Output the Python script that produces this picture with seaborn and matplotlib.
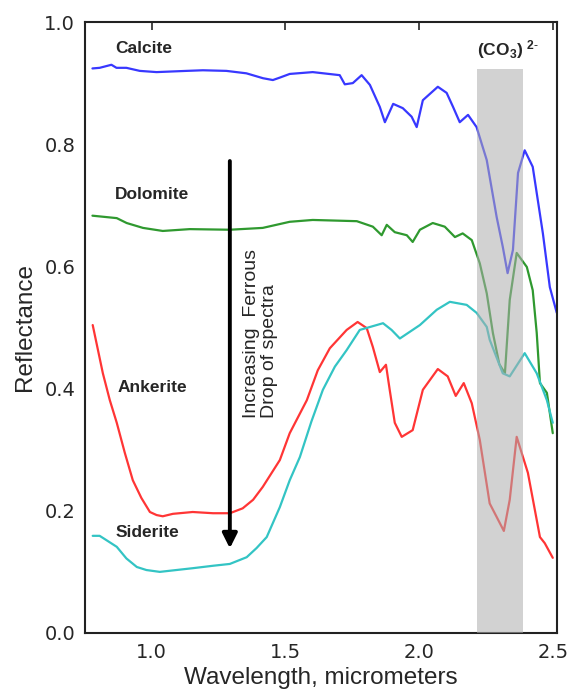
import pandas as pd
import seaborn as sns
import matplotlib.pyplot as plt

# spectra (wavelength in micrometers, reflectance)
calcite_x = [0.778, 0.805, 0.849, 0.868, 0.905, 0.955, 1.018, 1.130, 1.191, 1.279, 1.354, 1.416, 1.453,
             1.479, 1.516, 1.602, 1.703, 1.722, 1.752, 1.785, 1.816, 1.853, 1.872, 1.903, 1.939, 1.972,
             1.991, 2.014, 2.070, 2.103, 2.127, 2.152, 2.183, 2.215, 2.253, 2.290, 2.313, 2.331, 2.351,
             2.370, 2.395, 2.425, 2.463, 2.489, 2.515]
calcite_y = [0.924, 0.925, 0.930, 0.925, 0.925, 0.920, 0.918, 0.920, 0.921, 0.920, 0.916, 0.908, 0.905,
             0.909, 0.915, 0.918, 0.913, 0.898, 0.900, 0.913, 0.897, 0.861, 0.836, 0.866, 0.859, 0.845,
             0.828, 0.872, 0.894, 0.884, 0.861, 0.836, 0.848, 0.828, 0.774, 0.681, 0.632, 0.589, 0.627,
             0.753, 0.790, 0.763, 0.654, 0.566, 0.524]

dolomite_x = [0.778, 0.869, 0.906, 0.967, 1.041, 1.142, 1.292, 1.415, 1.516, 1.602, 1.767, 1.827, 1.860,
              1.879, 1.909, 1.954, 1.976, 2.003, 2.051, 2.096, 2.134, 2.163, 2.197, 2.227, 2.253, 2.276,
              2.300, 2.321, 2.339, 2.365, 2.403, 2.425, 2.440, 2.452, 2.478, 2.500]
dolomite_y = [0.683, 0.679, 0.671, 0.663, 0.658, 0.661, 0.660, 0.663, 0.673, 0.676, 0.674, 0.665, 0.651,
              0.668, 0.656, 0.651, 0.640, 0.660, 0.671, 0.665, 0.648, 0.654, 0.643, 0.605, 0.556, 0.491,
              0.440, 0.425, 0.545, 0.622, 0.599, 0.561, 0.491, 0.409, 0.393, 0.327]

ankerite_x = [0.779, 0.817, 0.843, 0.869, 0.899, 0.929, 0.961, 0.993, 1.018, 1.041, 1.079, 1.153,
              1.229, 1.292, 1.340, 1.379, 1.415, 1.479, 1.516, 1.580, 1.621, 1.666, 1.729, 1.770, 1.804,
              1.827, 1.853, 1.876, 1.890, 1.909, 1.935, 1.976, 2.014, 2.070, 2.107, 2.137, 2.167, 2.197,
              2.227, 2.264, 2.290, 2.317, 2.339, 2.365, 2.407, 2.452, 2.470, 2.500]
ankerite_y = [0.504, 0.425, 0.381, 0.344, 0.295, 0.250, 0.221, 0.198, 0.193, 0.191, 0.195, 0.198,
              0.196, 0.196, 0.204, 0.218, 0.239, 0.283, 0.327, 0.381, 0.430, 0.466, 0.496, 0.509, 0.499,
              0.468, 0.427, 0.439, 0.398, 0.344, 0.321, 0.332, 0.398, 0.432, 0.420, 0.388, 0.409, 0.376,
              0.316, 0.212, 0.190, 0.167, 0.218, 0.321, 0.262, 0.157, 0.147, 0.123]

siderite_x = [0.779, 0.805, 0.830, 0.869, 0.905, 0.944, 0.980, 1.030, 1.153, 1.229, 1.292, 1.355, 1.392,
              1.430, 1.479, 1.516, 1.554, 1.597, 1.640, 1.685, 1.729, 1.778, 1.865, 1.897, 1.928, 2.003,
              2.066, 2.115, 2.178, 2.215, 2.253, 2.264, 2.313, 2.339, 2.395, 2.440, 2.478, 2.500]
siderite_y = [0.159, 0.159, 0.152, 0.141, 0.122, 0.108, 0.103, 0.100, 0.106, 0.110, 0.113, 0.124, 0.139,
              0.157, 0.206, 0.250, 0.288, 0.346, 0.398, 0.436, 0.463, 0.496, 0.507, 0.496, 0.482, 0.504,
              0.529, 0.542, 0.537, 0.524, 0.501, 0.480, 0.425, 0.420, 0.458, 0.425, 0.381, 0.344]

minerals = ['Calcite', 'Dolomite', 'Ankerite', 'Siderite']
colors = ['#3838ff', '#2f992f', '#ff3535', '#33c4c4']
label_pos = [(0.862, 0.957), (0.862, 0.717), (0.873, 0.401), (0.865, 0.164)]

band_lo, band_hi, band_top = 2.218, 2.387, 0.923

frames = []
for name, xs, ys in zip(minerals,
                        [calcite_x, dolomite_x, ankerite_x, siderite_x],
                        [calcite_y, dolomite_y, ankerite_y, siderite_y]):
    frames.append(pd.DataFrame({'wavelength': xs, 'reflectance': ys, 'mineral': name}))
df = pd.concat(frames, ignore_index=True)

sns.set_style('white')
plt.rcParams['font.family'] = ['Liberation Sans', 'DejaVu Sans']
plt.rcParams['mathtext.fontset'] = 'custom'
plt.rcParams['mathtext.bf'] = 'Liberation Sans:bold'
plt.rcParams['mathtext.rm'] = 'Liberation Sans'

fig = plt.figure(figsize=(5.74, 6.92), dpi=100)
ax = fig.add_axes([0.148, 0.0853, 0.822, 0.8829])

sns.lineplot(data=df, x='wavelength', y='reflectance', hue='mineral', palette=dict(zip(minerals, colors)),
             sort=False, estimator=None, legend=False, linewidth=1.6, ax=ax)

# carbonate band, drawn over the spectra so they look faded inside it
ax.fill_between([band_lo, band_hi], 0, band_top, color='#adadad', alpha=0.55, lw=0, zorder=5)
ax.text(band_lo, 0.955, r'$\mathbf{(CO_3)}$ $\mathbf{^{2\text{-}}}$', fontsize=12.5, va='center', ha='left')

for name, (tx, ty) in zip(minerals, label_pos):
    ax.text(tx, ty, name, fontsize=12.5, fontweight='bold', ha='left', va='center')

ax.annotate('', xy=(1.292, 0.134), xytext=(1.292, 0.777),
            arrowprops=dict(arrowstyle='-|>', color='black', lw=2.8, mutation_scale=22))
ax.text(1.342, 0.352, 'Increasing  Ferrous\nDrop of spectra', rotation=90, fontsize=14,
        ha='left', va='bottom', multialignment='left', linespacing=1.05)

ax.set_xlim(0.75, 2.515)
ax.set_ylim(0.0, 1.0)
ax.set_xticks([1.0, 1.5, 2.0, 2.5])
ax.set_yticks([0.0, 0.2, 0.4, 0.6, 0.8, 1.0])
ax.tick_params(direction='in', length=6, width=1.2, top=True, right=False, labelsize=14, pad=7)
for lab in ax.get_xticklabels() + ax.get_yticklabels():
    lab.set_family('DejaVu Sans')
for sp in ax.spines.values():
    sp.set_linewidth(1.5)
    sp.set_color('#222222')
ax.set_xlabel('Wavelength, micrometers', fontsize=17.5, labelpad=4)
ax.set_ylabel('Reflectance', fontsize=17.5, labelpad=6)

fig.savefig('out.png', dpi=100)
